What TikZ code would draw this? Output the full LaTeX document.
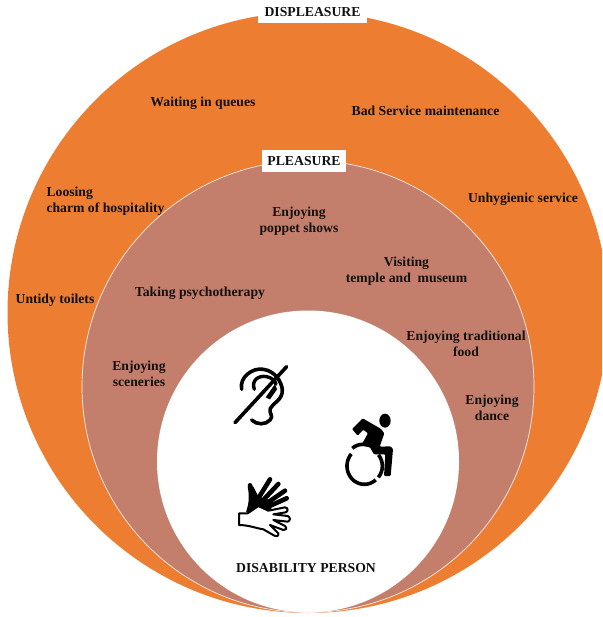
\documentclass[tikz,border=0pt]{standalone}
\usepackage{fontspec}
\setmainfont{Liberation Serif}
\definecolor{orangeout}{HTML}{ED7D31}
\definecolor{rosemid}{HTML}{C47F6C}
\definecolor{inkt}{HTML}{111111}
\tikzset{
  lbl/.style={font=\bfseries\fontsize{13.7}{16}\selectfont,text=inkt,align=center,inner sep=0pt},
  tag/.style={lbl,fill=white,inner sep=0pt},
  ic/.style={black,line cap=round,line join=round},
}
\begin{document}
\begin{tikzpicture}[x=1pt,y=-1pt]
\useasboundingbox (0,0) rectangle (602,617);
\fill[white] (0,0) rectangle (602,617);
\begin{scope}
\clip (0,0) rectangle (602,617);
\fill[orangeout] (308,312.5) circle[radius=300.5];
\filldraw[fill=rosemid,draw=white!85!rosemid,line width=0.7pt] (308,386.5) circle[radius=226];
\fill[white] (308,461.5) circle[radius=151];
\end{scope}
\node[tag,minimum width=109pt,minimum height=21pt] (dis) at (312.5,12.5) {DISPLEASURE};
\node[tag,minimum width=84pt,minimum height=22pt] (ple) at (304,161) {PLEASURE};
\node[lbl] (a) at (203,103) {Waiting in queues};
\node[lbl] (b) at (425.5,111) {Bad Service maintenance};
\node[lbl] (c) at (523,199) {Unhygienic service};
\node[lbl,align=left] (d) at (105.5,201) {Loosing\\charm of hospitality};
\node[lbl] (e) at (55,300) {Untidy toilets};
\node[lbl] (f) at (299,221) {Enjoying\\poppet shows};
\node[lbl] (g) at (200,293) {Taking psychotherapy};
\node[lbl] (h) at (406.5,271) {Visiting\\temple and\ \ museum};
\node[lbl] (i) at (466,344) {Enjoying traditional\\food};
\node[lbl] (j) at (139,374) {Enjoying\\sceneries};
\node[lbl] (k) at (492,408) {Enjoying\\dance};
\node[lbl] (l) at (306,568.5) {DISABILITY PERSON};
% ear
\begin{scope}[shift={(225,360)},x=1pt/3,y=-1pt/3]
\draw[ic,line width=3.6pt] (50,88) .. controls (42,50) and (85,22) .. (115,28)
  .. controls (150,33) and (170,65) .. (172,90)
  .. controls (173,120) and (145,128) .. (136,145)
  .. controls (130,160) and (148,168) .. (135,180)
  .. controls (122,195) and (95,195) .. (80,180);
\draw[ic,line width=3.4pt] (88,88) .. controls (78,62) and (100,45) .. (125,50)
  .. controls (140,53) and (150,62) .. (153,72);
\fill[black] (122,112) -- (150,72) -- (156,88) -- (135,118) -- cycle;
\draw[ic,line width=3.6pt] (30,188) -- (185,20);
\end{scope}
% wheelchair
\begin{scope}[shift={(335,405)},x=1pt/3,y=-1pt/3]
\fill[black] (150,47) ellipse[x radius=17pt/3,y radius=21pt/3];
\fill[black,rounded corners=1pt] (51,72) -- (83,40) -- (137,71) -- (148,85) -- (134,125) -- (167,124) -- (174,132) -- (167,213) -- (147,213) -- (151,148) -- (117,148) -- (105,127) -- (78,122) -- (99,85) -- (85,74) -- (68,92) -- cycle;
\draw[ic,line width=3.6pt,line cap=butt] (52,130) .. controls (60,122) and (72,118) .. (85,118);
\draw[ic,line width=3.6pt,line cap=butt] plot[smooth,domain=221:49,samples=24] ({88+52*cos(\x)},{183+55*sin(\x)});
\draw[ic,line width=3.6pt,line cap=butt] plot[smooth,domain=-38:39,samples=12] ({88+54*cos(\x)},{183+54*sin(\x)});
\end{scope}
% hands
\begin{scope}[shift={(225,470)},x=1pt/3,y=-1pt/3]
\draw[ic,line width=4.6pt] (75,46) -- (88,90);
\draw[ic,line width=4.6pt] (135,28) -- (100,85);
\draw[ic,line width=4.6pt] (160,42) -- (115,90);
\draw[ic,line width=4.6pt] (180,62) -- (125,100);
\draw[ic,line width=4.6pt] (185,85) -- (125,112);
\fill[black] (68,50) -- (85,50) -- (100,80) -- (135,90) -- (140,122) -- (100,128) -- (63,125) .. controls (73,100) and (73,75) .. (68,50) -- cycle;
\filldraw[fill=white,draw=black,line width=2pt,line join=round] (42,130) -- (68,130) -- (100,108) -- (130,122) -- (180,112)
  .. controls (190,113) and (190,125) .. (182,127) -- (145,133) -- (188,138)
  .. controls (197,142) and (197,152) .. (188,155) -- (145,150) -- (180,168)
  .. controls (188,175) and (182,182) .. (175,180) -- (135,165) -- (160,190)
  .. controls (162,200) and (152,200) .. (148,197) -- (115,178)
  .. controls (95,175) and (70,165) .. (42,165) -- cycle;
\end{scope}
\end{tikzpicture}
\end{document}
